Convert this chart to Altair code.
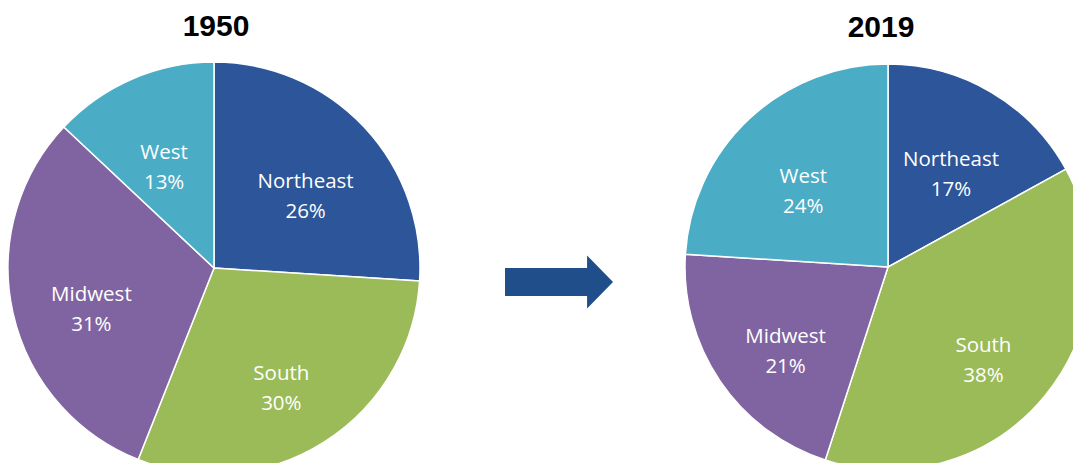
import altair as alt
import pandas as pd

regions = ["Northeast", "South", "Midwest", "West"]
share_1950 = [26, 30, 31, 13]
share_2019 = [17, 38, 21, 24]
colors = ["#2D5599", "#9BBB59", "#8064A2", "#4BACC6"]
years = ["1950", "2019"]

def frame(values):
    return pd.DataFrame({
        "region": regions,
        "share": values,
        "order": list(range(len(regions))),
        "label": [f"{r}\n{v}%" for r, v in zip(regions, values)],
    })

color_scale = alt.Scale(domain=regions, range=colors)

def pie(values, cx, cy, radius):
    base = alt.Chart(frame(values)).encode(
        theta=alt.Theta("share:Q", stack=True),
        order=alt.Order("order:Q"),
        x=alt.value(cx),
        y=alt.value(cy),
    )
    arcs = base.mark_arc(outerRadius=radius, stroke="white", strokeWidth=1.5).encode(
        color=alt.Color("region:N", scale=color_scale, legend=None)
    )
    labels = base.mark_text(
        radius=radius * 0.61, font="Open Sans", fontSize=20.5, color="white",
        lineBreak="\n", lineHeight=30, align="center", baseline="middle"
    ).encode(text="label:N")
    return arcs + labels

def title(text, x, y):
    return alt.Chart(pd.DataFrame({"t": [text]})).mark_text(
        font="Liberation Sans", fontSize=30, fontWeight="bold", color="black",
        align="center", baseline="alphabetic"
    ).encode(text="t:N", x=alt.value(x), y=alt.value(y))

arrow = alt.Chart(pd.DataFrame({"a": [0]})).mark_point(
    shape="M -1 -0.26 L 0.52 -0.26 L 0.52 -0.49 L 1 0 L 0.52 0.49 L 0.52 0.26 L -1 0.26 Z",
    size=11664, filled=True, opacity=1, strokeWidth=0,
).encode(color=alt.value("#1F4E8A"), x=alt.value(551), y=alt.value(274))

chart = alt.layer(
    pie(share_1950, 206, 260, 206),
    pie(share_2019, 880, 259, 203),
    title(years[0], 208, 28),
    title(years[1], 873, 29),
    arrow,
).resolve_scale(theta="independent").properties(
    width=1065, height=455, padding=0,
    autosize=alt.AutoSizeParams(type="none"),
).configure_view(strokeWidth=0)

chart.save("out.html", embed_options={"renderer": "svg", "actions": False})
